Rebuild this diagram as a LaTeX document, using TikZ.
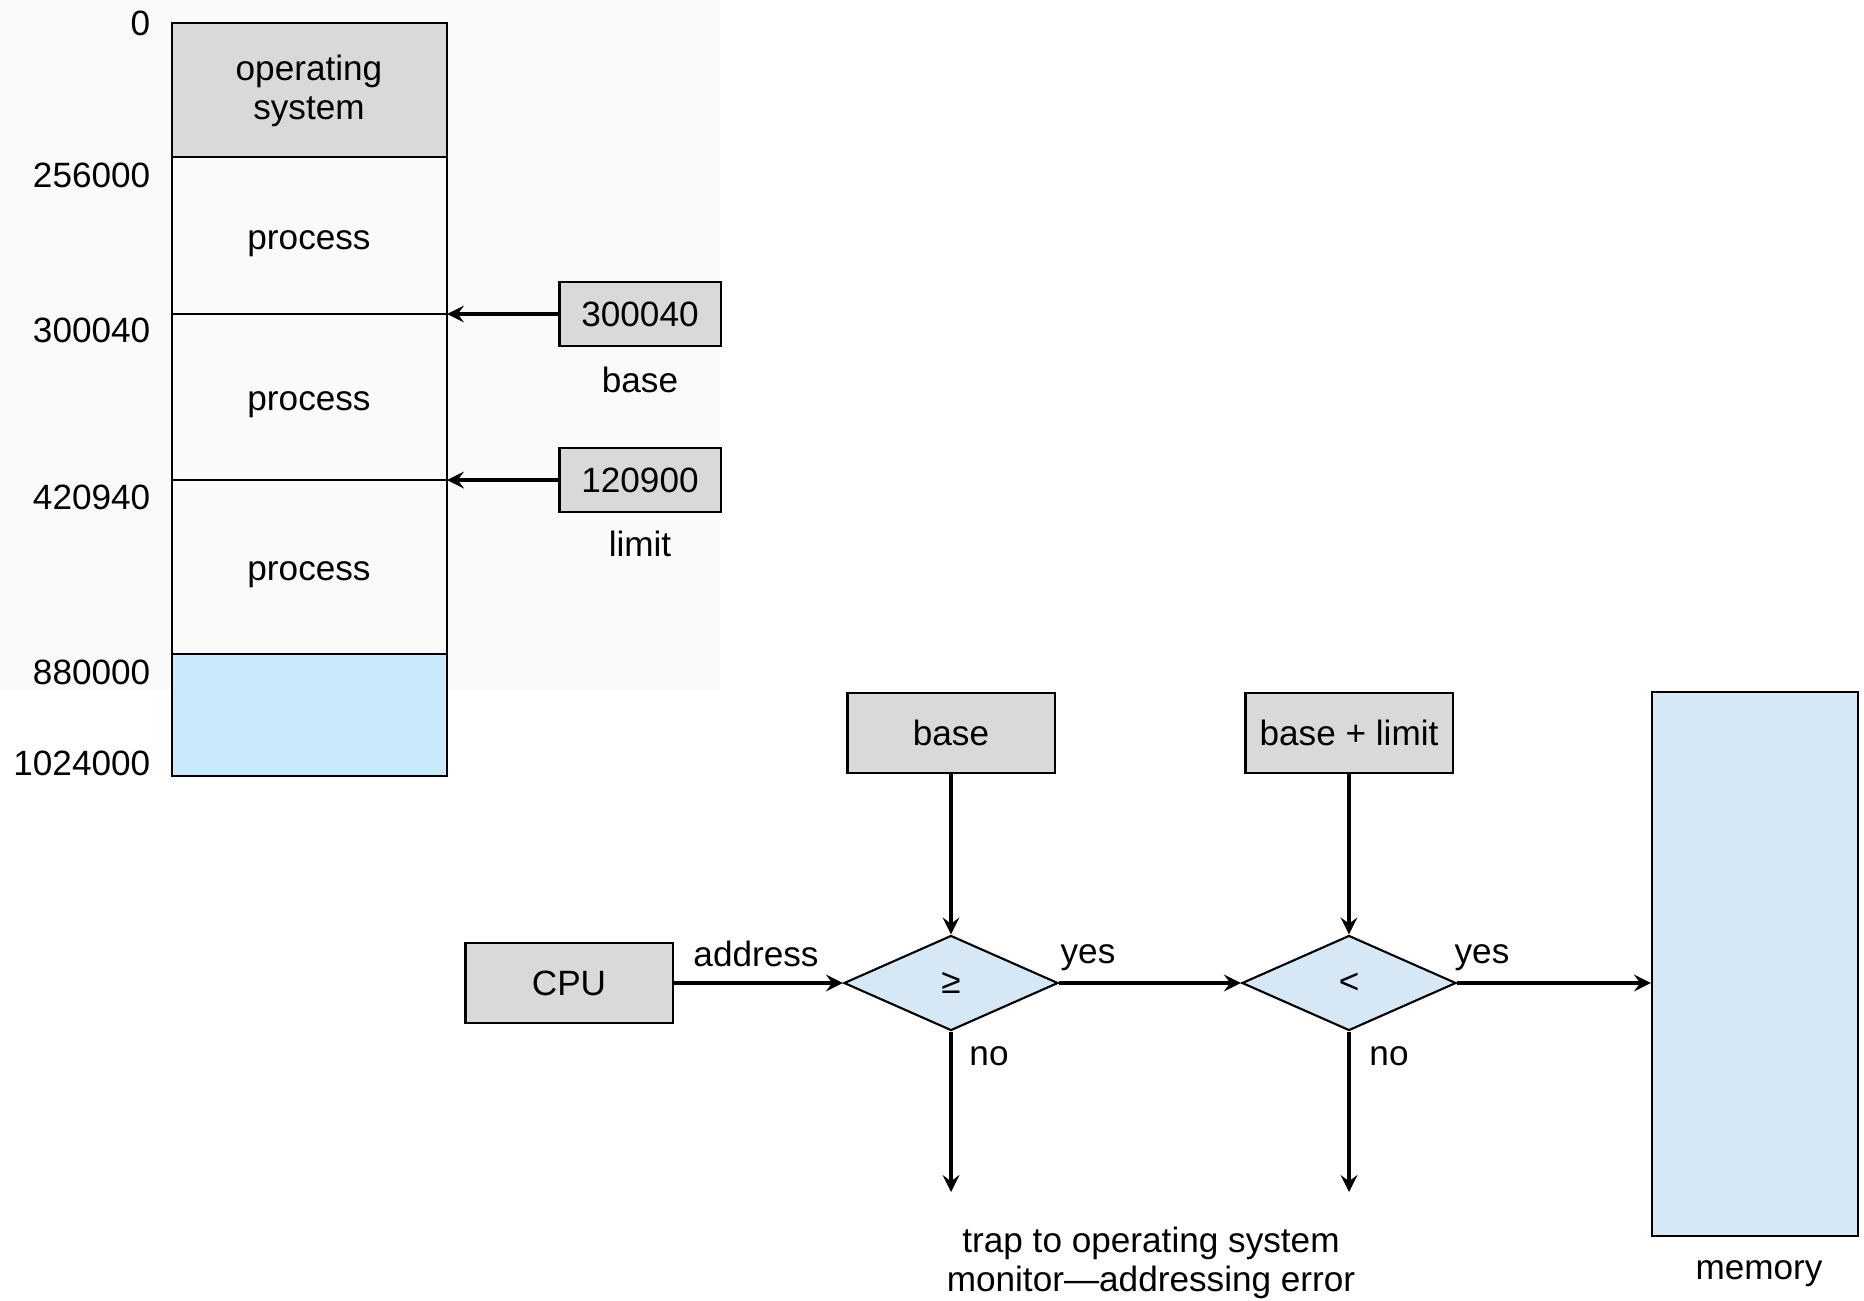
\documentclass[tikz,border=0pt]{standalone}
\usepackage{fontspec}
\setmainfont{Liberation Sans}
\usetikzlibrary{shapes.geometric,positioning}
\definecolor{regGray}{RGB}{217,217,217}
\definecolor{memBlue}{RGB}{200,234,250}
\definecolor{chkBlue}{RGB}{214,231,246}

\begin{document}
\begin{tikzpicture}[>=stealth,x=0.01cm,y=-0.01cm,font=\fontsize{10}{11}\selectfont,
    reg/.style={draw,semithick,fill=regGray,inner sep=0pt,minimum width=1.61cm,minimum height=0.64cm},
    regbig/.style={reg,minimum width=2.07cm,minimum height=0.8cm},
    chk/.style={draw,semithick,fill=chkBlue,diamond,inner sep=0pt,aspect=2.25,minimum width=2.14cm,minimum height=0.95cm},
    addr/.style={anchor=east,inner xsep=0pt},
    flow/.style={->,line width=1.1pt}]
        \useasboundingbox (0,0) rectangle (1864,1300);
        \fill [black!2] (0,0) rectangle (720,690);
        % memory column
        \draw [fill=regGray] (172,23) rectangle (447,157);
        \draw (172,157) rectangle (447,654);
        \draw (172,314) -- (447,314);
        \draw (172,480) -- (447,480);
        \draw [fill=memBlue] (172,654) rectangle (447,776);
        \node (os) at (309,91) [align=center]{operating\\system};
        \node (p1) at (309,244){process};
        \node (p2) at (309,405){process};
        \node (p3) at (309,575){process};
        \node [addr] (a0) at (151,23){0};
        \node [addr] (a1) at (151,175){256000};
        \node [addr] (a2) at (151,330){300040};
        \node [addr] (a3) at (151,497){420940};
        \node [addr] (a4) at (151,672){880000};
        \node [addr] (a5) at (151,763){1024000};
        % registers
        \node [reg] (baseval) at (640,314){300040};
        \node (basename) at (640,380){base};
        \node [reg] (limval) at (640,480){120900};
        \node (limname) at (640,544){limit};
        \coordinate (edge1) at (447,314);
        \coordinate (edge2) at (447,480);
        \draw [flow] (baseval) -- (edge1);
        \draw [flow] (limval) -- (edge2);
        % hardware check
        \node [regbig] (cpu) at (569,983){CPU};
        \node [regbig] (basebox) at (951,733){base};
        \node [regbig] (blbox) at (1349,733){base + limit};
        \node [chk] (ge) at (951,983){≥};
        \node [chk] (lt) at (1349,983){<};
        \node [draw, semithick, fill=chkBlue, minimum width=2.06cm, minimum height=5.43cm] (mem) at (1755,964){};
        \node (memname) at (1759,1274){memory};
        \coordinate (trap1) at (951,1192);
        \coordinate (trap2) at (1349,1192);
        \draw [flow] (cpu) -- (ge);
        \draw [flow] (ge) -- (lt);
        \draw [flow] (lt) -- (lt -| mem.west);
        \draw [flow] (basebox) -- (ge);
        \draw [flow] (blbox) -- (lt);
        \draw [flow] (ge) -- (trap1);
        \draw [flow] (lt) -- (trap2);
        \node (addrlbl) at (756,954){address};
        \node (yes1) at (1088,958){yes};
        \node (yes2) at (1482,958){yes};
        \node (no1) at (989,1056){no};
        \node (no2) at (1389,1056){no};
        \node [align=center] (trap) at (1151,1263){trap to operating system\\monitor---addressing error};
    \end{tikzpicture}
\end{document}
